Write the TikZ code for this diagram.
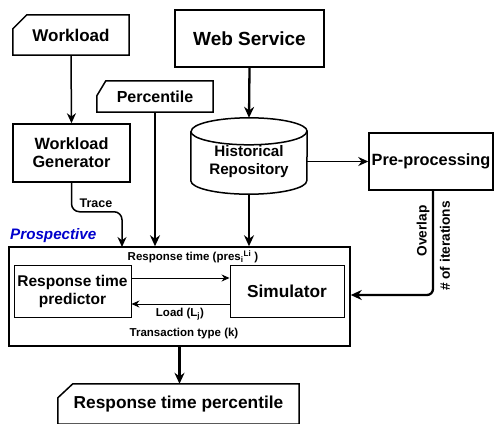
\documentclass[tikz,border=0pt]{standalone}
\usepackage{fontspec}
\setmainfont{Liberation Sans}
\usetikzlibrary{arrows.meta,positioning,calc}
\definecolor{prospblue}{RGB}{0,0,204}
\newcommand{\fs}[1]{\fontsize{#1}{18}\selectfont}
\tikzset{
  box/.style = {draw, line width=1.5pt, align=center, inner sep=0pt, font=\bfseries},
  ghost/.style = {align=center, inner sep=0pt, font=\bfseries},
  inbox/.style = {draw, line width=0.9pt, align=center, inner sep=0pt, font=\bfseries},
  card/.style = {line width=1.5pt},
  flow/.style = {-{Stealth[length=11pt,width=10pt]}, line width=2.3pt},
  midflow/.style = {-{Stealth[length=10pt,width=9pt]}, line width=1.5pt},
  thinflow/.style = {-{Stealth[length=8pt,width=7pt]}, line width=1pt},
  lbl/.style = {inner sep=0pt, font=\bfseries\fs{11.5}}
}
\begin{document}
\begin{tikzpicture}[x=1pt, y=-1pt]
                \useasboundingbox (0,0) rectangle (494,423);
                % inputs
                \node[ghost, minimum width=116pt, minimum height=40pt, font=\bfseries\fs{17}] (wl) at (71,35) {Workload};
                \draw[card] ([yshift=-14pt]wl.north west) -- ([xshift=14pt]wl.north west) -- (wl.north east) -- (wl.south east) -- (wl.south west) -- cycle;
                \node[box, minimum width=149pt, minimum height=57pt, font=\bfseries\fs{19}] (ws) at (249.5,38.5) {Web Service};
                \node[ghost, minimum width=116pt, minimum height=31pt, font=\bfseries\fs{16}] (perc) at (155,96.5) {Percentile};
                \draw[card] ([yshift=-15pt]perc.north west) -- ([xshift=9pt]perc.north west) -- (perc.north east) -- (perc.south east) -- (perc.south west) -- cycle;
                \node[box, minimum width=117pt, minimum height=58pt, font=\bfseries\fs{16.3}] (wlgen) at (71.5,153) {Workload\\Generator};
                % repository
                \node[ghost, minimum width=116pt, minimum height=76pt] (hist) at (249,156) {};
                \draw[card] ([yshift=-13.5pt]hist.north west) -- ([yshift=13.5pt]hist.south west)
                    arc[start angle=180, end angle=360, x radius=58pt, y radius=13.5pt]
                    -- ([yshift=-13.5pt]hist.north east)
                    arc[start angle=0, end angle=180, x radius=58pt, y radius=13.5pt];
                \draw[card] ([yshift=-13.5pt]hist.north west) arc[start angle=180, end angle=360, x radius=58pt, y radius=13.5pt];
                \node[ghost, font=\bfseries\fs{15.2}] (histtext) at (249,162) {Historical\\Repository};
                \node[box, minimum width=124pt, minimum height=57pt, font=\bfseries\fs{16.3}] (pre) at (431,161.5) {Pre-processing};
                % prospective block
                \node[box, minimum width=341pt, minimum height=99pt] (prosp) at (179.5,296.5) {};
                \node[inner sep=0pt, anchor=south west, text=prospblue, font=\bfseries\itshape\fs{15.2}] (prosplbl) at (10,243) {Prospective};
                \node[inbox, minimum width=117pt, minimum height=52pt, font=\bfseries\fs{15.5}] (pred) at (72.5,291) {Response time\\predictor};
                \node[inbox, minimum width=114pt, minimum height=52pt, font=\bfseries\fs{17.3}] (sim) at (287,291) {Simulator};
                \node[ghost, minimum width=241pt, minimum height=40pt, font=\bfseries\fs{17.3}] (rtp) at (178.5,404) {Response time percentile};
                \draw[card] ([yshift=-14pt]rtp.north west) -- ([xshift=15pt]rtp.north west) -- (rtp.north east) -- (rtp.south east) -- (rtp.south west) -- cycle;
                % connectors
                \draw[midflow] (wl.south) -- (wlgen.north);
                \draw[flow] (ws.south) -- (hist.north);
                \draw[midflow] (hist.east |- pre.west) -- (pre.west);
                \coordinate (tracein) at (122,247);
                \draw[midflow, rounded corners=8pt] (wlgen.south) -- ++(0,29) -| (tracein);
                \draw[flow] (perc.south) -- (perc.south |- prosp.north);
                \draw[flow] (hist.south) -- (hist.south |- prosp.north);
                \draw[flow, rounded corners=6pt] ([xshift=2pt]pre.south) |- ([yshift=1.5pt]prosp.east);
                \draw[flow] (prosp.south) -- (prosp.south |- rtp.north);
                \draw[thinflow] ([yshift=13pt]pred.east) -- ([yshift=13pt]pred.east -| sim.west);
                \draw[thinflow] ([yshift=-13pt]sim.west) -- ([yshift=-13pt]sim.west -| pred.east);
                % labels
                \node[lbl, font=\bfseries\fs{12.5}] (tracelbl) at (96,203) {Trace};
                \node[lbl] (resplbl) at (193,257) {Response time (pres\textsubscript{i}\textsuperscript{Li} )};
                \node[lbl] (loadlbl) at (180,314) {Load (L\textsubscript{j})};
                \node[lbl] (translbl) at (184,334) {Transaction type (k)};
                \node[lbl, rotate=90, font=\bfseries\fs{13.7}] (overlap) at (423,231) {Overlap};
                \node[lbl, rotate=90, font=\bfseries\fs{13.7}] (iters) at (445,246) {\# of iterations};
            \end{tikzpicture}
\end{document}
